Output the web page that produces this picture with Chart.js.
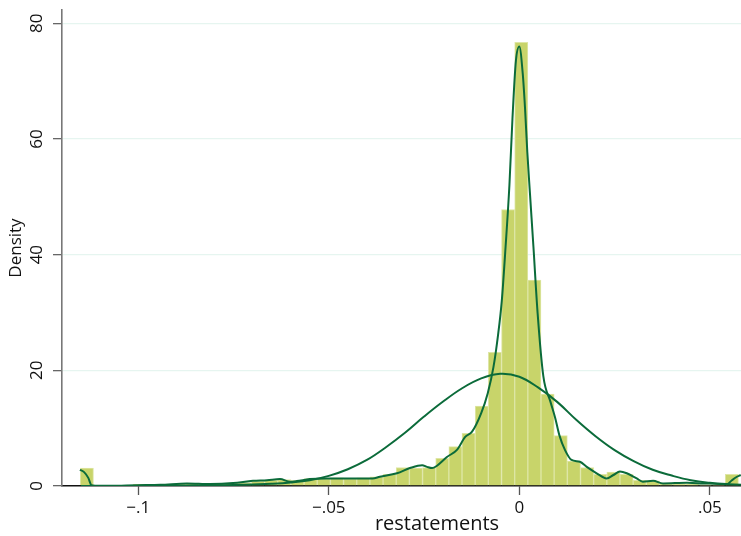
<!DOCTYPE html>
<html>
<head>
<meta charset="utf-8">
<script src="https://cdn.jsdelivr.net/npm/chart.js@4.4.1/dist/chart.umd.min.js"></script>
<style>
  body { margin: 0; background: #fff; }
  #wrap { width: 741px; height: 536px; overflow: hidden; position: relative; }
</style>
</head>
<body>
<div id="wrap"><canvas id="myChart" width="812" height="536"></canvas></div>
<script>
// histogram bins (centres) and density heights
const binCenters = [-0.11347, -0.11002, -0.10656, -0.10311, -0.09966, -0.09620, -0.09275, -0.08929, -0.08584, -0.08239,
    -0.07893, -0.07548, -0.07202, -0.06857, -0.06512, -0.06166, -0.05821, -0.05475, -0.05130, -0.04785,
    -0.04439, -0.04094, -0.03748, -0.03403, -0.03058, -0.02712, -0.02367, -0.02021, -0.01676, -0.01331,
    -0.00985, -0.00640, -0.00294, 0.00051, 0.00396, 0.00742, 0.01087, 0.01433, 0.01778, 0.02123,
    0.02469, 0.02814, 0.03160, 0.03505, 0.03850, 0.04196, 0.04541, 0.04887, 0.05232, 0.05577];
const binDensity = [3.1, 0.05, 0.1, 0.1, 0.3, 0.2, 0.2, 0.3, 0.4, 0.3,
    0.4, 0.5, 0.6, 0.8, 1.0, 1.1, 1.0, 1.3, 1.3, 1.4,
    1.3, 1.4, 1.6, 2.0, 3.2, 3.1, 3.2, 4.8, 6.8, 9.1,
    13.8, 23.1, 47.8, 76.7, 35.6, 15.9, 8.7, 4.3, 3.2, 2.0,
    2.4, 2.0, 1.0, 0.9, 0.4, 0.3, 0.3, 0.2, 0.2, 2.0];

// kernel density line
const kdeX = [-0.1153, -0.1142, -0.1131, -0.1123, -0.1113, -0.1074, -0.1003, -0.0942, -0.0872, -0.0811,
    -0.0751, -0.0699, -0.0662, -0.0628, -0.0602, -0.0584, -0.0550, -0.0506, -0.0445, -0.0385,
    -0.0366, -0.0321, -0.0287, -0.0255, -0.0242, -0.0229, -0.0216, -0.0190, -0.0163, -0.0142,
    -0.0124, -0.0100, -0.0083, -0.0068, -0.0056, -0.0046, -0.0036, -0.0026, -0.0018, -0.0009, 0.0000,
    0.0009, 0.0015, 0.0021, 0.0028, 0.0037, 0.0048, 0.0063, 0.0082, 0.0094, 0.0105,
    0.0120, 0.0137, 0.0159, 0.0177, 0.0203, 0.0229, 0.0247, 0.0264, 0.0282, 0.0308,
    0.0324, 0.0351, 0.0377, 0.0440, 0.0482, 0.0526, 0.0545, 0.0558, 0.0571, 0.0581];
const kdeY = [2.8, 2.4, 1.4, 0.15, 0.05, 0.05, 0.15, 0.2, 0.45, 0.35,
    0.5, 0.9, 1.0, 1.2, 0.75, 0.85, 1.2, 1.3, 1.3, 1.3,
    1.6, 2.2, 3.1, 3.6, 3.3, 3.1, 3.5, 5.0, 6.3, 8.5,
    9.4, 12.6, 16.0, 20.5, 26.0, 32.0, 41.4, 52.0, 63.5, 73.5, 76.0,
    71.3, 65.3, 57.7, 50.5, 41.4, 29.9, 19.0, 14.5, 11.8, 8.8,
    6.2, 4.5, 4.2, 3.3, 2.2, 1.3, 1.9, 2.5, 2.2, 1.3,
    0.75, 0.9, 0.45, 0.55, 0.45, 0.35, 0.3, 1.0, 1.6, 1.9];

// normal density line
const normX = [-0.115, -0.11, -0.105, -0.1, -0.095, -0.09, -0.085, -0.08, -0.075, -0.07,
    -0.065, -0.06, -0.055, -0.05, -0.045, -0.04, -0.035, -0.03, -0.025, -0.02,
    -0.015, -0.01, -0.005, 0, 0.005, 0.01, 0.015, 0.02, 0.025, 0.03,
    0.035, 0.04, 0.045, 0.05, 0.055, 0.06];
const normY = [0.0, 0.0, 0.01, 0.02, 0.03, 0.05, 0.08, 0.12, 0.18, 0.27,
    0.38, 0.6, 1.0, 1.75, 2.9, 4.5, 6.7, 9.2, 12.0, 14.6,
    16.9, 18.6, 19.4, 18.9, 17.0, 14.5, 11.4, 8.6, 6.2, 4.3,
    2.8, 1.8, 1.0, 0.55, 0.3, 0.15];

const xTicks = [-0.1, -0.05, 0, 0.05];
const xTickLabels = ['\u2212.1', '\u2212.05', '0', '.05'];
const yTicks = [0, 20, 40, 60, 80];
const yTickLabels = ['0', '20', '40', '60', '80'];

const lineColor = '#0b6b3a';
const textColor = '#111';
const fontFamily = '"Open Sans", "Noto Sans", sans-serif';

// y tick labels are rotated like in the original, so draw them here
const yLabelPlugin = {
    id: 'yLabels',
    afterDraw(chart) {
        const ctx = chart.ctx;
        const y = chart.scales.y;
        ctx.save();
        ctx.font = '17px ' + fontFamily;
        ctx.fillStyle = textColor;
        ctx.textAlign = 'center';
        ctx.textBaseline = 'middle';
        yTicks.forEach((v, i) => {
            ctx.save();
            ctx.translate(37, y.getPixelForValue(v));
            ctx.rotate(-Math.PI / 2);
            ctx.fillText(yTickLabels[i], 0, 0);
            ctx.restore();
        });
        ctx.restore();
    }
};

function renderChart() {
    const ctx = document.getElementById('myChart').getContext('2d');
    new Chart(ctx, {
        type: 'bar',
        data: {
            datasets: [{
                type: 'line',
                data: kdeX.map((x, i) => ({ x: x, y: kdeY[i] })),
                borderColor: lineColor,
                borderWidth: 2,
                pointRadius: 0,
                cubicInterpolationMode: 'monotone',
                order: 1
            }, {
                type: 'line',
                data: normX.map((x, i) => ({ x: x, y: normY[i] })),
                borderColor: lineColor,
                borderWidth: 2,
                pointRadius: 0,
                tension: 0.4,
                order: 2
            }, {
                type: 'bar',
                data: binCenters.map((x, i) => ({ x: x, y: binDensity[i] })),
                backgroundColor: 'rgb(200, 212, 106)',
                borderColor: 'rgb(222, 230, 165)',
                borderWidth: 1,
                borderSkipped: 'start',
                barPercentage: 1,
                categoryPercentage: 1,
                order: 3
            }]
        },
        options: {
            responsive: false,
            animation: false,
            devicePixelRatio: 1,
            layout: { padding: { top: 10, left: 0, right: 0, bottom: 0 } },
            plugins: { legend: { display: false }, tooltip: { enabled: false } },
            scales: {
                x: {
                    type: 'linear',
                    min: -0.12,
                    max: 0.0768,
                    offset: false,
                    afterFit: s => { s.height = 50; },
                    afterBuildTicks: s => { s.ticks = xTicks.map(v => ({ value: v })); },
                    grid: { offset: false, drawOnChartArea: false, tickLength: 9, tickColor: '#555', tickWidth: 1.3 },
                    border: { color: '#111', width: 1.5 },
                    ticks: {
                        padding: 3,
                        color: textColor,
                        font: { family: fontFamily, size: 17 },
                        maxRotation: 0,
                        callback: (v, i) => xTickLabels[i]
                    },
                    title: {
                        display: true,
                        text: 'restatements',
                        color: textColor,
                        font: { family: fontFamily, size: 20 },
                        padding: { top: 0, bottom: 0 }
                    }
                },
                y: {
                    min: 0,
                    max: 82.3,
                    afterFit: s => { s.width = 62; },
                    afterBuildTicks: s => { s.ticks = yTicks.map(v => ({ value: v })); },
                    grid: {
                        color: c => (c.tick && c.tick.value === 0) ? 'rgba(0,0,0,0)' : '#e6f5f0',
                        lineWidth: 1.3,
                        tickLength: 9,
                        tickColor: '#666',
                        tickWidth: 1.3
                    },
                    border: { color: '#777', width: 1.6 },
                    ticks: { display: false },
                    title: {
                        display: true,
                        text: 'Density',
                        color: textColor,
                        font: { family: fontFamily, size: 17 },
                        padding: { top: 6, bottom: 0 }
                    }
                }
            }
        },
        plugins: [yLabelPlugin]
    });
}

renderChart();
</script>
</body>
</html>
